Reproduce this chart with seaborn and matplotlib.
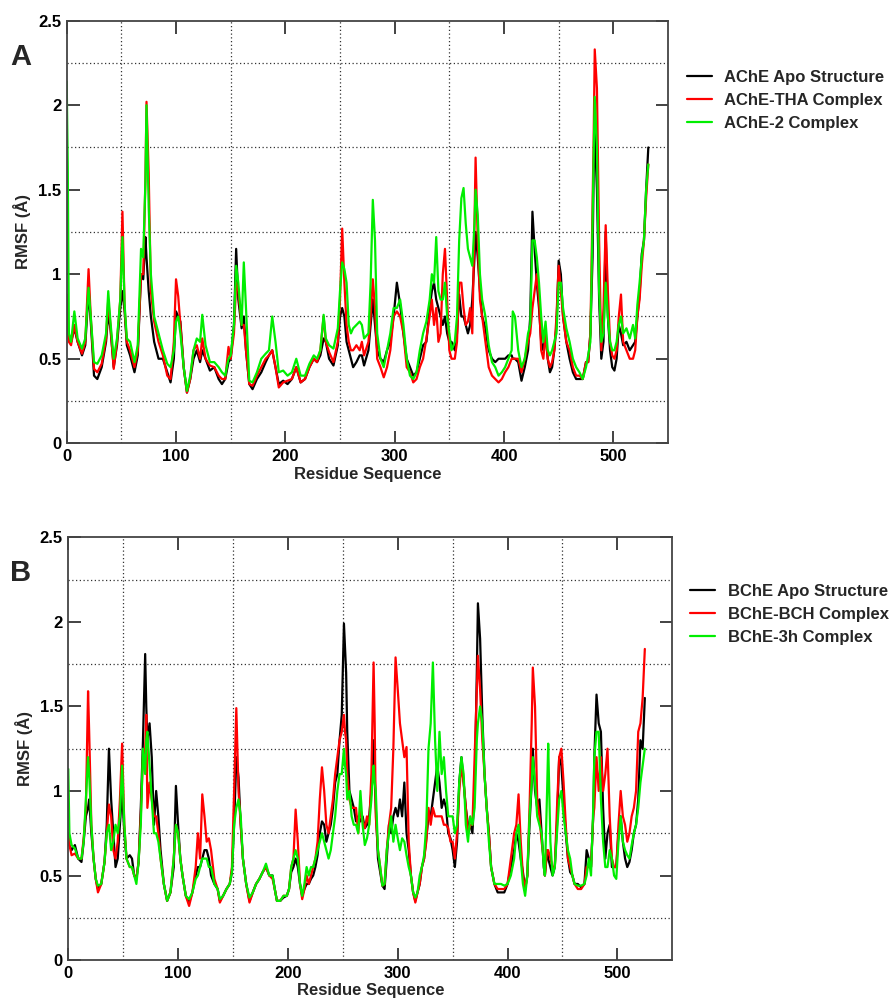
import numpy as np
import pandas as pd
import matplotlib
matplotlib.use("Agg")
import matplotlib.pyplot as plt
import seaborn as sns

# ---------------- Panel A: AChE systems ----------------
res_a = [
    0, 1, 2, 4, 7, 10, 14, 17, 20, 22,
    25, 28, 32, 36, 38, 40, 43, 46, 49, 51,
    53, 55, 58, 62, 65, 68, 70, 72, 73, 75,
    77, 80, 84, 88, 92, 95, 98, 100, 102, 104,
    107, 110, 113, 116, 119, 122, 124, 127, 131, 135,
    139, 142, 145, 148, 150, 153, 155, 157, 160, 162,
    164, 167, 170, 174, 178, 182, 185, 188, 191, 194,
    198, 202, 206, 210, 214, 218, 222, 226, 229, 232,
    235, 237, 240, 244, 248, 250, 252, 254, 256, 258,
    260, 262, 265, 268, 270, 272, 276, 278, 280, 282,
    284, 287, 290, 293, 296, 299, 302, 305, 308, 311,
    314, 317, 320, 323, 326, 329, 332, 334, 336, 338,
    340, 342, 344, 346, 348, 350, 352, 355, 357, 359,
    361, 363, 365, 367, 369, 371, 373, 374, 376, 378,
    380, 383, 386, 389, 392, 395, 398, 401, 404, 407,
    408, 410, 413, 416, 419, 422, 424, 426, 428, 430,
    432, 434, 436, 438, 440, 442, 444, 446, 448, 450,
    452, 454, 457, 460, 463, 466, 469, 472, 475, 477,
    479, 481, 482, 483, 485, 487, 489, 491, 493, 495,
    497, 499, 501, 503, 505, 507, 509, 512, 515, 518,
    520, 522, 524, 526, 528, 530, 532,
]

ache_apo = [
    0.78, 0.70, 0.62, 0.60, 0.68, 0.60, 0.52, 0.58, 0.90, 0.72,
    0.40, 0.38, 0.45, 0.60, 0.77, 0.68, 0.45, 0.58, 0.80, 0.90,
    0.78, 0.58, 0.52, 0.42, 0.52, 1.00, 0.97, 1.22, 1.10, 0.90,
    0.75, 0.60, 0.50, 0.50, 0.42, 0.36, 0.50, 0.78, 0.75, 0.72,
    0.45, 0.30, 0.38, 0.50, 0.55, 0.48, 0.55, 0.50, 0.43, 0.45,
    0.38, 0.35, 0.38, 0.48, 0.50, 0.70, 1.15, 0.85, 0.68, 0.75,
    0.55, 0.35, 0.32, 0.38, 0.42, 0.48, 0.52, 0.55, 0.45, 0.35,
    0.37, 0.35, 0.38, 0.45, 0.36, 0.38, 0.45, 0.50, 0.48, 0.52,
    0.62, 0.60, 0.50, 0.46, 0.58, 0.75, 0.80, 0.75, 0.60, 0.55,
    0.50, 0.45, 0.48, 0.52, 0.52, 0.46, 0.55, 0.70, 0.85, 0.70,
    0.55, 0.50, 0.48, 0.55, 0.60, 0.75, 0.95, 0.82, 0.65, 0.50,
    0.45, 0.40, 0.42, 0.50, 0.58, 0.60, 0.80, 0.90, 0.95, 0.85,
    0.80, 0.75, 0.70, 0.75, 0.65, 0.60, 0.60, 0.55, 0.65, 0.88,
    0.75, 0.75, 0.70, 0.65, 0.70, 0.85, 1.10, 1.25, 1.10, 0.90,
    0.75, 0.68, 0.55, 0.50, 0.48, 0.50, 0.50, 0.50, 0.52, 0.52,
    0.50, 0.50, 0.48, 0.37, 0.45, 0.55, 0.75, 1.37, 1.15, 0.95,
    0.80, 0.60, 0.55, 0.65, 0.50, 0.42, 0.45, 0.55, 0.70, 1.08,
    1.00, 0.75, 0.60, 0.50, 0.42, 0.38, 0.38, 0.38, 0.48, 0.48,
    0.65, 1.10, 1.60, 1.85, 1.50, 0.85, 0.50, 0.60, 1.25, 0.75,
    0.55, 0.45, 0.43, 0.50, 0.70, 0.65, 0.58, 0.60, 0.55, 0.58,
    0.60, 0.75, 0.88, 1.12, 1.20, 1.50, 1.75,
]

ache_tha = [
    0.88, 0.75, 0.60, 0.58, 0.70, 0.60, 0.53, 0.60, 1.03, 0.75,
    0.44, 0.42, 0.47, 0.62, 0.85, 0.70, 0.44, 0.60, 0.85, 1.37,
    0.80, 0.60, 0.55, 0.45, 0.55, 1.00, 1.00, 1.55, 2.02, 1.60,
    0.90, 0.72, 0.60, 0.52, 0.40, 0.38, 0.60, 0.97, 0.87, 0.70,
    0.45, 0.30, 0.38, 0.55, 0.58, 0.50, 0.62, 0.50, 0.46, 0.45,
    0.40, 0.38, 0.38, 0.57, 0.50, 0.65, 0.95, 0.90, 0.70, 0.70,
    0.55, 0.35, 0.34, 0.40, 0.45, 0.50, 0.52, 0.55, 0.45, 0.33,
    0.36, 0.37, 0.38, 0.45, 0.36, 0.38, 0.45, 0.50, 0.48, 0.55,
    0.75, 0.60, 0.54, 0.48, 0.60, 0.85, 1.27, 0.95, 0.70, 0.60,
    0.55, 0.55, 0.58, 0.55, 0.60, 0.52, 0.60, 0.75, 0.97, 0.80,
    0.50, 0.45, 0.39, 0.45, 0.55, 0.75, 0.78, 0.75, 0.65, 0.45,
    0.42, 0.36, 0.38, 0.45, 0.50, 0.62, 0.75, 0.85, 0.70, 0.80,
    0.60, 0.65, 1.00, 1.15, 0.85, 0.55, 0.50, 0.50, 0.60, 0.95,
    0.95, 0.80, 0.70, 0.72, 0.80, 0.65, 1.30, 1.69, 1.20, 0.85,
    0.75, 0.60, 0.45, 0.40, 0.38, 0.36, 0.38, 0.42, 0.45, 0.50,
    0.50, 0.50, 0.50, 0.42, 0.50, 0.60, 0.65, 0.80, 0.90, 1.00,
    0.85, 0.55, 0.50, 0.65, 0.50, 0.45, 0.48, 0.55, 0.75, 1.05,
    0.90, 0.75, 0.60, 0.55, 0.45, 0.40, 0.40, 0.38, 0.48, 0.48,
    0.65, 1.40, 1.80, 2.33, 2.10, 1.20, 0.55, 0.80, 1.29, 0.90,
    0.60, 0.52, 0.50, 0.55, 0.75, 0.88, 0.60, 0.55, 0.50, 0.50,
    0.55, 0.75, 0.85, 1.05, 1.20, 1.45, 1.65,
]

ache_2 = [
    2.14, 1.63, 0.65, 0.60, 0.78, 0.62, 0.56, 0.62, 0.92, 0.75,
    0.48, 0.47, 0.52, 0.65, 0.90, 0.72, 0.50, 0.62, 0.85, 1.22,
    0.82, 0.62, 0.60, 0.48, 0.58, 1.15, 1.10, 1.55, 2.00, 1.40,
    1.00, 0.75, 0.65, 0.55, 0.47, 0.45, 0.55, 0.72, 0.75, 0.65,
    0.45, 0.31, 0.40, 0.55, 0.62, 0.60, 0.76, 0.58, 0.48, 0.48,
    0.45, 0.42, 0.40, 0.50, 0.52, 0.70, 1.05, 0.95, 0.70, 1.07,
    0.80, 0.37, 0.36, 0.42, 0.50, 0.53, 0.55, 0.75, 0.60, 0.42,
    0.43, 0.40, 0.42, 0.50, 0.40, 0.40, 0.47, 0.52, 0.50, 0.55,
    0.76, 0.62, 0.58, 0.56, 0.68, 0.90, 1.07, 1.03, 0.95, 0.70,
    0.65, 0.68, 0.70, 0.72, 0.70, 0.62, 0.65, 0.95, 1.44, 1.20,
    0.65, 0.50, 0.45, 0.55, 0.65, 0.80, 0.80, 0.85, 0.70, 0.50,
    0.40, 0.38, 0.42, 0.55, 0.65, 0.72, 0.85, 1.00, 0.95, 1.22,
    0.90, 0.85, 0.85, 0.95, 0.75, 0.65, 0.55, 0.60, 0.75, 1.20,
    1.45, 1.51, 1.30, 1.15, 1.10, 1.05, 1.30, 1.50, 1.35, 1.00,
    0.85, 0.75, 0.58, 0.48, 0.45, 0.40, 0.42, 0.45, 0.50, 0.55,
    0.78, 0.75, 0.55, 0.45, 0.50, 0.65, 0.70, 1.20, 1.20, 1.10,
    0.95, 0.75, 0.60, 0.72, 0.55, 0.52, 0.55, 0.60, 0.65, 0.95,
    0.95, 0.80, 0.68, 0.60, 0.50, 0.45, 0.42, 0.38, 0.45, 0.52,
    0.60, 1.30, 1.70, 2.05, 1.75, 0.90, 0.60, 0.65, 0.95, 0.75,
    0.60, 0.55, 0.55, 0.60, 0.70, 0.75, 0.65, 0.68, 0.62, 0.70,
    0.62, 0.82, 0.95, 1.10, 1.20, 1.50, 1.65,
]

labels_a = ["AChE Apo Structure", "AChE-THA Complex", "AChE-2 Complex"]

# ---------------- Panel B: BChE systems ----------------
res_b = [
    0, 1, 3, 6, 9, 12, 14, 16, 18, 19,
    21, 23, 25, 27, 30, 33, 35, 37, 39, 41,
    43, 45, 47, 49, 51, 53, 56, 58, 60, 62,
    64, 66, 68, 70, 71, 72, 74, 76, 78, 80,
    82, 84, 87, 90, 93, 96, 98, 100, 102, 104,
    107, 110, 113, 116, 118, 120, 122, 124, 126, 128,
    130, 133, 136, 138, 141, 144, 147, 149, 151, 153,
    155, 157, 159, 162, 165, 168, 171, 174, 177, 180,
    183, 186, 188, 190, 193, 196, 199, 201, 203, 205,
    207, 209, 211, 213, 215, 217, 219, 221, 223, 225,
    227, 229, 231, 233, 235, 237, 239, 241, 243, 245,
    247, 249, 251, 252, 253, 254, 256, 258, 260, 262,
    264, 266, 268, 270, 272, 274, 276, 278, 279, 280,
    282, 284, 286, 288, 290, 292, 294, 296, 298, 300,
    302, 304, 306, 308, 310, 312, 314, 316, 318, 320,
    322, 324, 326, 328, 330, 332, 334, 336, 338, 340,
    342, 344, 346, 348, 350, 352, 354, 356, 358, 360,
    362, 364, 366, 368, 370, 372, 373, 375, 377, 379,
    381, 383, 385, 388, 391, 394, 397, 400, 403, 406,
    408, 410, 412, 414, 416, 418, 420, 422, 423, 425,
    427, 429, 431, 433, 434, 436, 437, 439, 441, 443,
    445, 447, 449, 451, 453, 455, 457, 459, 461, 464,
    467, 470, 472, 474, 476, 478, 479, 481, 483, 485,
    487, 489, 491, 493, 495, 497, 499, 501, 503, 505,
    507, 509, 511, 513, 515, 517, 519, 521, 523, 525,
]

bche_apo = [
    0.75, 0.68, 0.65, 0.68, 0.60, 0.58, 0.70, 0.85, 0.90, 0.95,
    0.75, 0.60, 0.48, 0.42, 0.45, 0.58, 0.80, 1.25, 0.95, 0.75,
    0.55, 0.60, 0.80, 1.00, 0.75, 0.60, 0.62, 0.60, 0.50, 0.48,
    0.58, 0.90, 1.30, 1.81, 1.50, 1.30, 1.40, 1.20, 0.80, 1.00,
    0.85, 0.65, 0.45, 0.35, 0.40, 0.55, 1.03, 0.80, 0.60, 0.50,
    0.38, 0.34, 0.40, 0.50, 0.55, 0.55, 0.60, 0.65, 0.65, 0.60,
    0.50, 0.45, 0.42, 0.35, 0.38, 0.42, 0.45, 0.52, 0.80, 1.20,
    1.08, 0.80, 0.60, 0.45, 0.35, 0.40, 0.45, 0.48, 0.52, 0.55,
    0.50, 0.50, 0.42, 0.35, 0.35, 0.37, 0.38, 0.42, 0.52, 0.55,
    0.60, 0.55, 0.45, 0.38, 0.42, 0.45, 0.45, 0.48, 0.50, 0.55,
    0.62, 0.75, 0.82, 0.80, 0.70, 0.75, 0.80, 0.90, 1.05, 1.10,
    1.30, 1.45, 1.99, 1.85, 1.70, 1.35, 1.00, 0.95, 0.90, 0.82,
    0.85, 0.82, 0.85, 0.78, 0.80, 0.85, 1.00, 1.30, 1.10, 0.90,
    0.60, 0.52, 0.44, 0.42, 0.60, 0.80, 0.75, 0.85, 0.90, 0.85,
    0.95, 0.85, 1.05, 0.75, 0.65, 0.50, 0.40, 0.35, 0.40, 0.45,
    0.55, 0.60, 0.72, 0.85, 0.85, 0.95, 1.05, 1.15, 1.05, 0.90,
    0.95, 0.90, 0.75, 0.72, 0.65, 0.55, 0.70, 1.05, 1.20, 1.05,
    0.90, 0.80, 0.80, 0.75, 1.00, 1.70, 2.11, 1.90, 1.45, 1.10,
    0.90, 0.75, 0.55, 0.45, 0.40, 0.40, 0.40, 0.45, 0.55, 0.65,
    0.75, 0.70, 0.60, 0.52, 0.42, 0.50, 0.80, 1.05, 1.25, 1.00,
    0.90, 0.95, 0.75, 0.55, 0.50, 0.65, 0.60, 0.55, 0.50, 0.55,
    0.80, 1.20, 1.15, 0.95, 0.75, 0.60, 0.52, 0.50, 0.45, 0.45,
    0.43, 0.45, 0.65, 0.60, 0.55, 0.85, 1.20, 1.57, 1.40, 1.35,
    0.90, 0.60, 0.75, 0.80, 0.55, 0.55, 0.55, 0.75, 0.85, 0.70,
    0.60, 0.55, 0.58, 0.65, 0.75, 0.80, 0.95, 1.30, 1.25, 1.55,
]

bche_bch = [
    0.75, 0.68, 0.62, 0.63, 0.60, 0.60, 0.72, 0.90, 1.59, 1.35,
    0.80, 0.60, 0.48, 0.40, 0.45, 0.58, 0.75, 0.92, 0.85, 0.65,
    0.60, 0.70, 0.95, 1.28, 0.80, 0.60, 0.55, 0.55, 0.50, 0.48,
    0.58, 0.85, 1.20, 1.25, 1.45, 0.90, 1.05, 0.95, 0.85, 0.85,
    0.75, 0.60, 0.45, 0.35, 0.40, 0.60, 0.80, 0.75, 0.60, 0.50,
    0.38, 0.32, 0.40, 0.55, 0.75, 0.60, 0.98, 0.85, 0.70, 0.72,
    0.65, 0.48, 0.42, 0.34, 0.38, 0.42, 0.45, 0.55, 1.00, 1.49,
    1.00, 0.80, 0.60, 0.45, 0.34, 0.40, 0.45, 0.48, 0.52, 0.55,
    0.50, 0.48, 0.42, 0.35, 0.35, 0.38, 0.38, 0.42, 0.55, 0.60,
    0.89, 0.70, 0.45, 0.36, 0.42, 0.50, 0.45, 0.50, 0.55, 0.60,
    0.70, 0.95, 1.14, 1.00, 0.80, 0.75, 0.85, 0.95, 1.10, 1.20,
    1.30, 1.35, 1.45, 1.35, 1.30, 1.10, 0.95, 0.90, 0.90, 0.90,
    0.75, 0.90, 0.82, 0.78, 0.85, 0.80, 1.10, 1.76, 1.40, 0.85,
    0.65, 0.55, 0.44, 0.45, 0.65, 0.80, 0.90, 1.25, 1.79, 1.60,
    1.40, 1.30, 1.20, 1.26, 0.70, 0.50, 0.40, 0.34, 0.40, 0.45,
    0.55, 0.60, 0.70, 0.90, 0.80, 0.90, 0.85, 0.85, 0.85, 0.85,
    0.80, 0.80, 0.78, 0.70, 0.70, 0.60, 0.75, 1.00, 1.15, 1.05,
    0.90, 0.75, 0.80, 0.80, 1.20, 1.60, 1.80, 1.60, 1.30, 1.10,
    0.90, 0.75, 0.55, 0.45, 0.42, 0.42, 0.42, 0.45, 0.60, 0.75,
    0.80, 0.98, 0.70, 0.50, 0.42, 0.50, 0.90, 1.40, 1.73, 1.50,
    0.95, 0.85, 0.70, 0.60, 0.50, 0.65, 0.65, 0.60, 0.55, 0.55,
    0.90, 1.20, 1.25, 1.05, 0.80, 0.60, 0.55, 0.50, 0.45, 0.42,
    0.42, 0.45, 0.55, 0.55, 0.55, 0.85, 0.90, 1.20, 1.00, 1.20,
    1.00, 1.10, 1.25, 0.85, 0.60, 0.55, 0.55, 0.80, 1.00, 0.85,
    0.80, 0.70, 0.75, 0.85, 0.90, 1.00, 1.35, 1.40, 1.55, 1.84,
]

bche_3h = [
    1.13, 0.75, 0.68, 0.66, 0.60, 0.60, 0.70, 0.95, 1.20, 1.10,
    0.80, 0.60, 0.48, 0.44, 0.45, 0.58, 0.75, 0.80, 0.65, 0.70,
    0.80, 0.75, 0.85, 1.15, 0.80, 0.60, 0.55, 0.55, 0.50, 0.45,
    0.58, 0.80, 1.25, 1.10, 1.30, 1.35, 1.15, 0.95, 0.75, 0.75,
    0.70, 0.60, 0.45, 0.35, 0.40, 0.60, 0.80, 0.75, 0.60, 0.50,
    0.38, 0.36, 0.40, 0.48, 0.50, 0.55, 0.60, 0.60, 0.60, 0.55,
    0.55, 0.45, 0.42, 0.36, 0.38, 0.42, 0.45, 0.52, 0.80, 0.90,
    0.95, 0.85, 0.60, 0.45, 0.37, 0.40, 0.45, 0.48, 0.52, 0.57,
    0.50, 0.50, 0.42, 0.35, 0.35, 0.38, 0.38, 0.42, 0.55, 0.60,
    0.65, 0.60, 0.45, 0.38, 0.45, 0.55, 0.50, 0.55, 0.55, 0.60,
    0.65, 0.70, 0.75, 0.70, 0.65, 0.60, 0.65, 0.75, 0.85, 1.00,
    1.10, 1.10, 1.25, 1.15, 1.10, 0.95, 1.00, 0.85, 0.80, 0.80,
    0.75, 1.00, 0.80, 0.68, 0.72, 0.80, 0.95, 1.15, 1.05, 1.00,
    0.65, 0.55, 0.44, 0.45, 0.65, 0.75, 0.85, 0.70, 0.80, 0.72,
    0.65, 0.72, 0.70, 0.62, 0.55, 0.50, 0.40, 0.37, 0.40, 0.50,
    0.55, 0.62, 0.80, 1.25, 1.40, 1.76, 1.30, 1.00, 1.35, 1.10,
    1.20, 1.00, 0.85, 0.85, 0.85, 0.75, 0.80, 1.05, 1.20, 1.10,
    0.80, 0.70, 0.85, 0.80, 0.90, 1.30, 1.40, 1.50, 1.40, 1.10,
    0.90, 0.70, 0.55, 0.45, 0.45, 0.45, 0.44, 0.45, 0.50, 0.60,
    0.75, 0.80, 0.60, 0.45, 0.38, 0.50, 0.85, 1.05, 1.20, 1.05,
    0.85, 0.80, 0.75, 0.55, 0.50, 1.00, 1.28, 0.70, 0.50, 0.55,
    0.75, 0.95, 1.00, 0.85, 0.75, 0.65, 0.60, 0.50, 0.45, 0.44,
    0.44, 0.45, 0.50, 0.60, 0.50, 0.90, 1.20, 1.35, 1.35, 0.95,
    0.70, 0.55, 0.55, 0.65, 0.60, 0.50, 0.48, 0.70, 0.85, 0.70,
    0.65, 0.62, 0.60, 0.68, 0.75, 0.80, 0.90, 1.05, 1.15, 1.25,
]

labels_b = ["BChE Apo Structure", "BChE-BCH Complex", "BChE-3h Complex"]

line_colors = ["#000000", "#ff0000", "#00ee00"]
x_ticks = [0, 100, 200, 300, 400, 500]
y_ticks = [0, 0.5, 1, 1.5, 2, 2.5]
y_tick_labels = ["0", "0.5", "1", "1.5", "2", "2.5"]

sns.set_theme(style="ticks")
plt.rcParams["font.family"] = ["Liberation Sans", "DejaVu Sans"]
plt.rcParams["font.weight"] = "bold"
plt.rcParams["axes.labelweight"] = "bold"

fig = plt.figure(figsize=(8.94, 9.99), dpi=100)
ax_a = fig.add_axes([0.0746, 0.5563, 0.6726, 0.4230])
ax_b = fig.add_axes([0.0764, 0.0390, 0.6756, 0.4231])


def draw_panel(ax, res, series, labels, legend_xy, letter, letter_xy):
    frames = [
        pd.DataFrame({"Residue": res, "RMSF": vals, "System": name})
        for name, vals in zip(labels, series)
    ]
    df = pd.concat(frames, ignore_index=True)
    sns.lineplot(
        data=df, x="Residue", y="RMSF", hue="System", hue_order=labels,
        palette=line_colors, estimator=None, sort=False, linewidth=1.6,
        ax=ax,
    )
    ax.set_xlim(0, 550)
    ax.set_ylim(0, 2.5)
    ax.set_xticks(x_ticks)
    ax.set_xticklabels([str(t) for t in x_ticks])
    ax.set_yticks(y_ticks)
    ax.set_yticklabels(y_tick_labels)
    ax.set_xticks(np.arange(50, 550, 100), minor=True)
    ax.set_yticks(np.arange(0.25, 2.5, 0.5), minor=True)
    ax.grid(which="minor", linestyle=(0, (1, 2)), color="#333333", linewidth=0.9)
    ax.grid(which="major", visible=False)
    ax.tick_params(which="major", direction="in", length=9, width=1.2,
                   top=True, right=True, labelsize=12, pad=4, colors="#222222",
                   labelcolor="black")
    ax.tick_params(which="minor", length=0)
    for lab in ax.get_xticklabels() + ax.get_yticklabels():
        lab.set_fontweight("bold")
    for sp in ax.spines.values():
        sp.set_linewidth(1.3)
        sp.set_color("#444444")
    ax.set_xlabel("Residue Sequence", fontsize=12, fontweight="bold", labelpad=2)
    ax.set_ylabel("RMSF (Å)", fontsize=12, fontweight="bold", labelpad=5)
    handles, lbls = ax.get_legend_handles_labels()
    ax.legend(handles, lbls, loc="upper left", bbox_to_anchor=legend_xy,
              bbox_transform=fig.transFigure, frameon=False,
              prop={"weight": "bold", "size": 12}, handlelength=1.5,
              handletextpad=0.75, labelspacing=0.48, borderpad=0,
              borderaxespad=0)
    fig.text(letter_xy[0], letter_xy[1], letter, fontsize=21,
             fontweight="bold", ha="left", va="baseline")


draw_panel(ax_a, res_a, [ache_apo, ache_tha, ache_2], labels_a,
           (687 / 894, 1 - 70 / 999), "A", (10 / 894, 1 - 65 / 999))
draw_panel(ax_b, res_b, [bche_apo, bche_bch, bche_3h], labels_b,
           (690 / 894, 1 - 584 / 999), "B", (10 / 894, 1 - 581 / 999))

fig.savefig("out.png", dpi=100, facecolor="white")
